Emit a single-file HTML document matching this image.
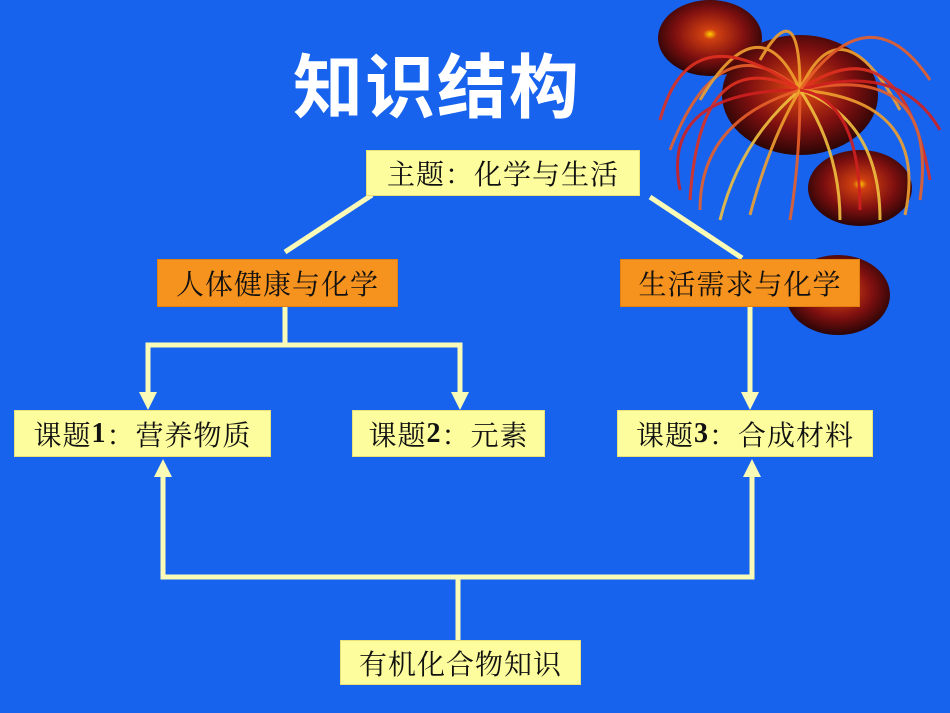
<!DOCTYPE html>
<html><head><meta charset="utf-8"><style>
body{margin:0;width:950px;height:713px;overflow:hidden;background:#1763ee;position:relative;font-family:"Liberation Serif","Noto Serif CJK SC",serif;}
.b{position:absolute;background:#fdfd9e;border:1px solid #e8e07a;box-sizing:border-box;font-size:28px;color:#111;display:flex;align-items:center;justify-content:center;white-space:nowrap;font-family:"Liberation Serif","Noto Serif CJK SC",serif;letter-spacing:1px;}
.o{background:#f6921e;border-color:#e08010;}
.t{position:absolute;left:293px;top:32px;font-size:70px;font-weight:bold;color:#fff;font-family:"Liberation Sans","Noto Sans CJK SC",sans-serif;letter-spacing:2px;}
svg{position:absolute;left:0;top:0;}
</style></head><body>
<svg width="950" height="713">
<defs>
<radialGradient id="g" cx="50%" cy="45%" r="55%"><stop offset="0" stop-color="#ffd000"/><stop offset="0.12" stop-color="#d04010"/><stop offset="0.6" stop-color="#801010"/><stop offset="1" stop-color="#2a0505"/></radialGradient>
</defs>
<ellipse cx="710" cy="38" rx="52" ry="38" fill="url(#g)"/>
<ellipse cx="800" cy="95" rx="78" ry="60" fill="url(#g)"/>
<ellipse cx="860" cy="188" rx="52" ry="38" fill="url(#g)"/>
<ellipse cx="838" cy="295" rx="52" ry="40" fill="url(#g)"/>
<g fill="none" stroke-width="3" opacity="0.9">
<path d="M800 90 Q700 40 690 200" stroke="#e03020"/>
<path d="M800 90 Q720 20 670 150" stroke="#e8602a"/>
<path d="M800 90 Q760 0 700 100" stroke="#f0a030"/>
<path d="M800 90 Q840 0 900 110" stroke="#f0a030"/>
<path d="M800 90 Q900 20 930 180" stroke="#e03020"/>
<path d="M800 90 Q940 60 920 200" stroke="#e8602a"/>
<path d="M800 90 Q880 120 880 220" stroke="#f0c040"/>
<path d="M800 90 Q740 140 720 220" stroke="#f0c040"/>
<path d="M800 90 Q800 160 790 220" stroke="#e8602a"/>
<path d="M800 90 Q660 90 680 190" stroke="#d02020"/>
<path d="M800 90 Q900 60 940 130" stroke="#d02020"/>
<path d="M800 90 Q690 10 660 120" stroke="#e03020"/>
<path d="M800 90 Q800 -10 760 60" stroke="#f0a030"/>
<path d="M800 90 Q870 -10 930 80" stroke="#e8602a"/>
<path d="M800 90 Q930 100 905 215" stroke="#f0a030"/>
<path d="M800 90 Q840 150 840 220" stroke="#f0c040"/>
<path d="M800 90 Q700 120 700 210" stroke="#e8602a"/>
<path d="M800 90 Q770 140 750 215" stroke="#f0a030"/>
<path d="M800 90 Q860 100 860 210" stroke="#d02020"/>
</g>
<g stroke="#fbfbb8" stroke-width="5" fill="none">
<line x1="372" y1="195" x2="285" y2="252"/>
<line x1="650" y1="197" x2="742" y2="258"/>
<polyline points="285,307 285,345 148,345 148,395"/>
<polyline points="285,345 460,345 460,395"/>
<line x1="750" y1="307" x2="750" y2="395"/>
<line x1="458" y1="640" x2="458" y2="577"/>
<polyline points="163,475 163,577 752,577 752,475"/>
</g>
<g fill="#fbfbb8">
<polygon points="139,392 157,392 148,410"/>
<polygon points="451,392 469,392 460,410"/>
<polygon points="741,392 759,392 750,410"/>
<polygon points="154,477 172,477 163,459"/>
<polygon points="743,477 761,477 752,459"/>
</g>
</svg>
<div class="t">知识结构</div>
<div class="b" style="left:366px;top:150px;width:274px;height:46px">主题：化学与生活</div>
<div class="b o" style="left:157px;top:259px;width:241px;height:48px">人体健康与化学</div>
<div class="b o" style="left:620px;top:259px;width:240px;height:48px">生活需求与化学</div>
<div class="b" style="left:14px;top:410px;width:257px;height:47px">课题<b>1</b>：营养物质</div>
<div class="b" style="left:352px;top:410px;width:193px;height:47px">课题<b>2</b>：元素</div>
<div class="b" style="left:617px;top:410px;width:256px;height:47px">课题<b>3</b>：合成材料</div>
<div class="b" style="left:340px;top:640px;width:241px;height:45px">有机化合物知识</div>
</body></html>
